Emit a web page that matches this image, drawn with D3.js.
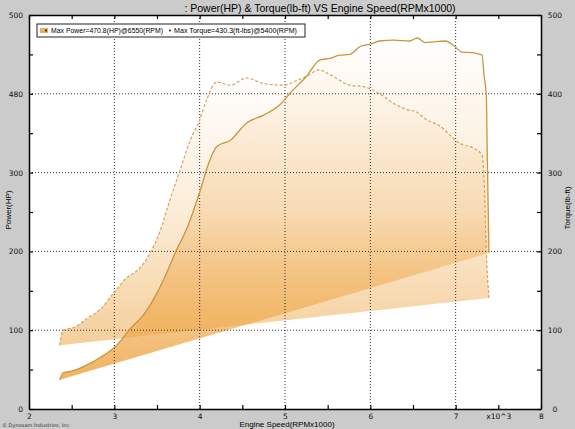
<!DOCTYPE html>
<html>
<head>
<meta charset="utf-8">
<script src="https://cdn.jsdelivr.net/npm/d3@7"></script>
<style>
  body { margin: 0; background: #cbcbcb; }
  svg { display: block; font-family: "DejaVu Sans", sans-serif; }
</style>
</head>
<body>
<svg width="575" height="429"></svg>
<script>
// power curve (left axis, HP)
var powerRpm = [2.36, 2.40, 2.52, 2.68, 2.83, 3.01, 3.18, 3.36, 3.50, 3.61, 3.73, 3.85, 4.00, 4.12, 4.20, 4.36, 4.55, 4.75, 4.94, 5.06, 5.25, 5.41, 5.53, 5.64, 5.76, 5.88, 6.00, 6.11, 6.27, 6.46, 6.55, 6.64, 6.74, 6.88, 6.99, 7.07, 7.21, 7.31, 7.33, 7.36, 7.37, 7.39];
var powerHp = [37, 46, 48.6, 56, 65, 79, 101, 122, 147, 172, 202, 229, 275, 316, 333, 341, 363, 373, 386, 401, 422, 443, 445, 449, 450, 460, 463, 467, 468, 467, 470.8, 465, 466, 467, 460, 453, 452, 449, 426, 396, 325, 198];

// torque curve (right axis, lb-ft)
var torqueRpm = [2.36, 2.40, 2.54, 2.68, 2.83, 2.99, 3.14, 3.30, 3.42, 3.54, 3.65, 3.77, 3.89, 4.00, 4.08, 4.20, 4.36, 4.55, 4.75, 4.98, 5.14, 5.25, 5.40, 5.53, 5.76, 5.92, 6.11, 6.27, 6.43, 6.54, 6.66, 6.82, 6.93, 7.05, 7.21, 7.31, 7.33, 7.36, 7.39];
var torqueLbft = [81, 100, 104, 115, 126, 147, 166, 179, 198, 227, 265, 303, 341, 367, 392, 415, 411, 420, 413, 411, 417, 422, 430.3, 424, 411, 409, 400, 388, 380, 377, 367, 359, 348, 337, 331, 322, 299, 198, 141];

var xTicks = [2, 3, 4, 5, 6, 7, 8];
var yTicks = [0, 100, 200, 300, 400, 500];
var leftTickLabels = ["0", "100", "200", "300", "480", "500"];
var rightTickLabels = ["0", "100", "200", "300", "400", "500"];

var titleText = ": Power(HP) & Torque(lb-ft) VS Engine Speed(RPMx1000)";
var powerLegend = "Max Power=470.8(HP)@6550(RPM)";
var torqueLegend = "Max Torque=430.3(ft-lbs)@5400(RPM)";

var svg = d3.select("svg");
var L = 29, R = 541, T = 15, B = 409;

var x = d3.scaleLinear().domain([2, 8]).range([L, R]);
var y = d3.scaleLinear().domain([0, 500]).range([B, T]);

var power = powerRpm.map(function(r, i) { return [r, powerHp[i]]; });
var torque = torqueRpm.map(function(r, i) { return [r, torqueLbft[i]]; });

// plot background
svg.append("rect").attr("x", L).attr("y", T).attr("width", R - L).attr("height", B - T).attr("fill", "#fff");

var defs = svg.append("defs");
function grad(id, y1, y2, stops) {
  var g = defs.append("linearGradient").attr("id", id)
    .attr("gradientUnits", "userSpaceOnUse")
    .attr("x1", 0).attr("x2", 0).attr("y1", y1).attr("y2", y2);
  stops.forEach(function(s) {
    g.append("stop").attr("offset", s[0]).attr("stop-color", "#eea646").attr("stop-opacity", s[1]);
  });
}
grad("gPower", y(470), y(37), [[0, 0], [0.5, 0.25], [1, 0.85]]);
grad("gTorque", y(430), y(81), [[0, 0], [0.5, 0.2], [1, 0.55]]);

var line = d3.line().x(function(d) { return x(d[0]); }).y(function(d) { return y(d[1]); })
  .curve(d3.curveMonotoneX);

// closed areas: curve then straight back to start
svg.append("path").attr("d", line(torque) + "Z").attr("fill", "url(#gTorque)");
svg.append("path").attr("d", line(power) + "Z").attr("fill", "url(#gPower)");

// grid
var grid = svg.append("g").attr("stroke", "#333").attr("stroke-width", 1).attr("stroke-dasharray", "1,2");
xTicks.slice(1, -1).forEach(function(t) {
  grid.append("line").attr("x1", x(t)).attr("x2", x(t)).attr("y1", T).attr("y2", B);
});
yTicks.slice(1, -1).forEach(function(t) {
  grid.append("line").attr("x1", L).attr("x2", R).attr("y1", y(t)).attr("y2", y(t));
});

// curves
svg.append("path").attr("d", line(torque)).attr("fill", "none")
  .attr("stroke", "#d4a35a").attr("stroke-width", 1.2).attr("stroke-dasharray", "3,2");
svg.append("path").attr("d", line(power)).attr("fill", "none")
  .attr("stroke", "#c8963f").attr("stroke-width", 1.3);

// axes
var halfX = d3.range(2, 8.01, 0.5);
var halfY = d3.range(0, 501, 50);

var axBottom = svg.append("g").attr("transform", "translate(0," + B + ")")
  .call(d3.axisBottom(x).tickValues(halfX).tickSizeInner(-4).tickSizeOuter(0).tickPadding(5)
    .tickFormat(function(d) {
      if (d === 7.5) return "x10^3";
      return d % 1 === 0 ? d : "";
    }));
var axTop = svg.append("g").attr("transform", "translate(0," + T + ")")
  .call(d3.axisTop(x).tickValues(halfX).tickSizeInner(-4).tickSizeOuter(0).tickFormat(""));
var axLeft = svg.append("g").attr("transform", "translate(" + L + ",0)")
  .call(d3.axisLeft(y).tickValues(halfY).tickSizeInner(-4).tickSizeOuter(0).tickPadding(6)
    .tickFormat(function(d) { return d % 100 === 0 ? leftTickLabels[d / 100] : ""; }));
var axRight = svg.append("g").attr("transform", "translate(" + R + ",0)")
  .call(d3.axisRight(y).tickValues(halfY).tickSizeInner(-4).tickSizeOuter(0).tickPadding(14)
    .tickFormat(function(d) { return d % 100 === 0 ? rightTickLabels[d / 100] : ""; }));
axRight.selectAll("text").attr("text-anchor", "middle");

[axBottom, axTop, axLeft, axRight].forEach(function(g) {
  g.select(".domain").attr("stroke", "#000").attr("stroke-width", 1.5);
  g.selectAll(".tick line").attr("stroke", "#000").attr("stroke-width", 1.2);
  g.selectAll("text").attr("font-size", 7.5).attr("fill", "#111").attr("font-family", "DejaVu Sans, sans-serif");
});

// legend
var lg = svg.append("g").attr("font-family", "Liberation Sans, Arial, sans-serif");
lg.append("rect").attr("x", 37).attr("y", 24).attr("width", 268).attr("height", 13)
  .attr("fill", "#fff").attr("stroke", "#222").attr("stroke-width", 1);
lg.append("rect").attr("x", 40).attr("y", 28).attr("width", 8).attr("height", 5).attr("fill", "#e9b060");
lg.append("rect").attr("x", 45).attr("y", 29.5).attr("width", 2).attr("height", 2).attr("fill", "#333");
lg.append("text").attr("x", 51).attr("y", 33.3).attr("font-size", 7)
  .attr("textLength", 112).attr("lengthAdjust", "spacingAndGlyphs").text(powerLegend);
lg.append("circle").attr("cx", 170).attr("cy", 30.5).attr("r", 1.1).attr("fill", "#333");
lg.append("text").attr("x", 174).attr("y", 33.3).attr("font-size", 7)
  .attr("textLength", 123).attr("lengthAdjust", "spacingAndGlyphs").text(torqueLegend);

// titles
svg.append("text").attr("x", 320).attr("y", 12).attr("text-anchor", "middle")
  .attr("font-size", 10.5).attr("font-family", "Liberation Sans, Arial, sans-serif").text(titleText);
svg.append("text").attr("x", 287).attr("y", 427).attr("text-anchor", "middle")
  .attr("font-size", 8).attr("font-family", "Liberation Sans, Arial, sans-serif").text("Engine Speed(RPMx1000)");
svg.append("text").attr("transform", "translate(11,210) rotate(-90)").attr("text-anchor", "middle")
  .attr("font-size", 8).attr("font-family", "Liberation Sans, Arial, sans-serif").text("Power(HP)");
svg.append("text").attr("transform", "translate(570,208) rotate(-90)").attr("text-anchor", "middle")
  .attr("font-size", 8).attr("font-family", "Liberation Sans, Arial, sans-serif").text("Torque(lb-ft)");
svg.append("text").attr("x", 2).attr("y", 427).attr("font-size", 5)
  .attr("fill", "#333").text("© Dynoxam Industries, Inc.");
</script>
</body>
</html>
